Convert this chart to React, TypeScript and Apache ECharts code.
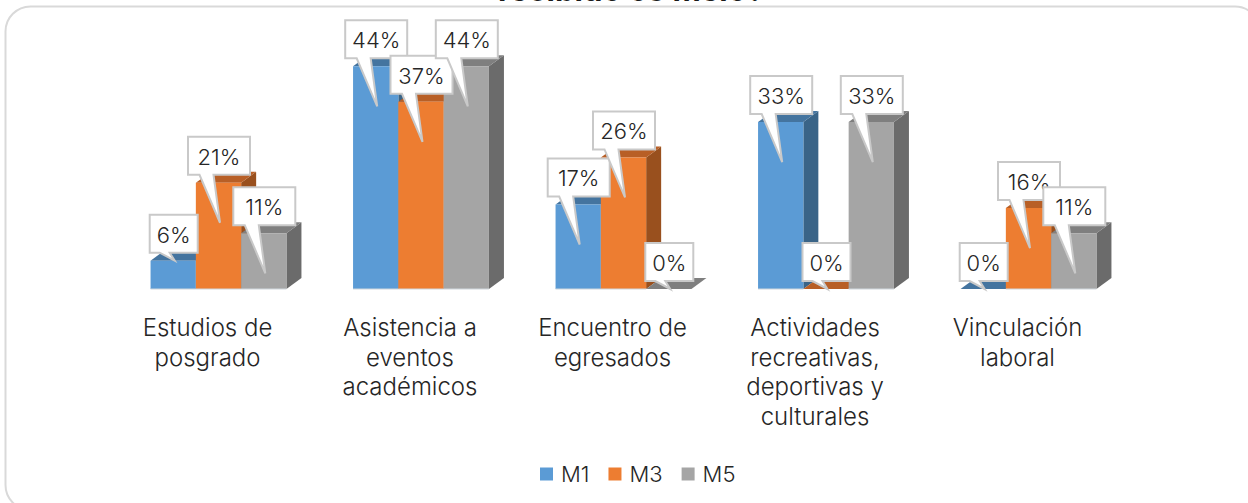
import React, { useEffect, useRef } from "react";
import * as echarts from "echarts";

const categories = [
  "Estudios de\nposgrado",
  "Asistencia a\neventos\nacadémicos",
  "Encuentro de\negresados",
  "Actividades\nrecreativas,\ndeportivas y\nculturales",
  "Vinculación\nlaboral",
];
const m1 = [5.6, 44, 16.7, 33, 0];
const m3 = [21, 37, 26, 0, 16];
const m5 = [11, 44, 0, 33, 11];
const seriesNames = ["M1", "M3", "M5"];
const titleText = "recibido os meio?";

const FONT = "Inter";
const front = ["#5b9bd5", "#ed7d31", "#a5a5a5"];
const topC = ["#44749f", "#b85f26", "#7f7f7f"];
const sideC = ["#3a6487", "#99501e", "#6b6b6b"];
const DX = 15;
const DY = 11;
const BAR_RATIO = 0.2237;
const GROUP_SHIFT = 11;

function barItem(si: number) {
  return (_p: any, api: any) => {
    const idx = api.value(0);
    const [cx, top] = api.coord([idx, api.value(1)]);
    const [, base] = api.coord([idx, 0]);
    const w = api.size([1, 0])[0] * BAR_RATIO;
    const x = cx + GROUP_SHIFT + (si - 1.5) * w;
    const children: any[] = [];
    const h = base - top;
    children.push({
      type: "polygon",
      shape: { points: [[x + w, base], [x + w + DX, base - DY], [x + w + DX, top - DY], [x + w, top]] },
      style: { fill: sideC[si] },
    });
    children.push({
      type: "polygon",
      shape: { points: [[x, top], [x + DX, top - DY], [x + w + DX, top - DY], [x + w, top]] },
      style: { fill: topC[si] },
    });
    if (h > 0) {
      children.push({ type: "rect", shape: { x, y: top, width: w, height: h }, style: { fill: front[si] } });
      children.push({
        type: "line",
        shape: { x1: x, y1: base, x2: x + w, y2: base },
        style: { stroke: "#cfd6dc", lineWidth: 1 },
      });
    }
    return { type: "group", children };
  };
}

function labelItem(si: number) {
  return (_p: any, api: any) => {
    const idx = api.value(0);
    const val = api.value(1);
    const [cx, top] = api.coord([idx, val]);
    const w = api.size([1, 0])[0] * BAR_RATIO;
    const x = cx + GROUP_SHIFT + (si - 1.5) * w;
    const center = x + w / 2 + 0.5;
    const txt = Math.round(val) + "%";
    const bw = txt.length > 2 ? 62 : 48;
    const l = center - bw / 2;
    const r = center + bw / 2;
    const b = top - 8;
    const t = b - 38;
    const short = val < 10;
    const tipY = short ? top : top + 40;
    const tipX = center + 1;
    const bl = short ? center - 14 : center - 19.5;
    const br = short ? center - 4 : center - 5.5;
    return {
      type: "group",
      children: [
        {
          type: "polygon",
          shape: {
            points: [[l, t], [r, t], [r, b], [br, b], [tipX, tipY], [bl, b], [l, b]],
          },
          style: { fill: "#ffffff", stroke: "#c9c9c9", lineWidth: 2, lineJoin: "miter" },
        },
        {
          type: "text",
          style: {
            text: txt,
            x: center,
            y: (t + b) / 2 + 1,
            align: "center",
            verticalAlign: "middle",
            fill: "#262626",
            font: `300 22px ${FONT}`,
          },
        },
      ],
    };
  };
}

const toData = (a: number[]) => a.map((v, i) => [i, v]);

export default function App() {
  const ref = useRef<HTMLDivElement>(null);
  useEffect(() => {
    const chart = echarts.init(ref.current!, null, { renderer: "svg" });
    const all = [m1, m3, m5];
    chart.setOption({
      animation: false,
      backgroundColor: "#ffffff",
      grid: { left: 106.25, width: 1012.5, top: 36, height: 253 },
      xAxis: {
        type: "category",
        data: categories,
        axisLine: { show: false },
        axisTick: { show: false },
        axisLabel: {
          interval: 0,
          margin: 24,
          fontFamily: FONT,
          fontWeight: 300,
          fontSize: 24,
          lineHeight: 29.5,
          color: "#262626",
        },
      },
      yAxis: { type: "value", min: 0, max: 50, show: false },
      legend: {
        data: seriesNames,
        top: 458,
        left: 535,
        itemWidth: 13,
        itemHeight: 13,
        itemGap: 19,
        icon: "rect",
        textStyle: { fontFamily: FONT, fontWeight: 300, fontSize: 22, color: "#262626", padding: [0, 0, 0, 3] },
      },
      graphic: [
        {
          type: "rect",
          shape: { x: 5.5, y: 6.5, width: 1254.5, height: 503.5, r: 25 },
          style: { fill: "none", stroke: "#d9d9d9", lineWidth: 2 },
          silent: true,
        },
        {
          type: "text",
          x: 631,
          y: -26,
          style: { text: titleText, align: "center", fill: "#1a1a1a", font: `700 31px ${FONT}` },
          silent: true,
        },
      ],
      series: [
        ...seriesNames.map((n, si) => ({
          type: "custom",
          name: n,
          z: 2,
          itemStyle: { color: front[si] },
          data: toData(all[si]),
          encode: { x: 0, y: 1 },
          renderItem: barItem(si),
        })),
        ...seriesNames.map((n, si) => ({
          type: "custom",
          name: n + " etiquetas",
          z: 3 + si,
          data: toData(all[si]),
          encode: { x: 0, y: 1 },
          renderItem: labelItem(si),
        })),
      ],
    });
    return () => chart.dispose();
  }, []);
  return <div ref={ref} style={{ position: "fixed", left: 0, top: 0, width: 1248, height: 503 }} />;
}
